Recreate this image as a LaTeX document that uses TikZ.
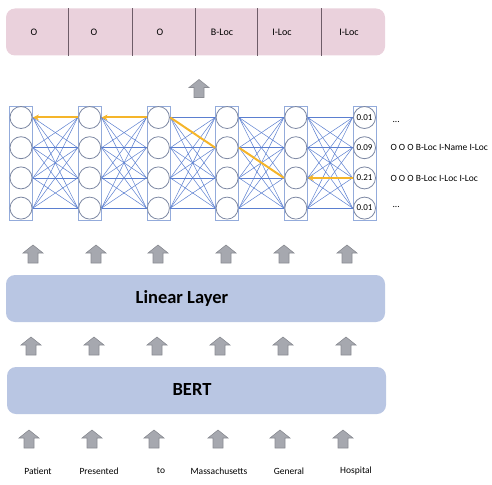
\documentclass[tikz,border=0pt]{standalone}
\usepackage{fontspec}
\setmainfont{Carlito}
\usetikzlibrary{arrows.meta}

\definecolor{tagpink}{HTML}{EAD1DC}
\definecolor{tagline}{HTML}{6E5C68}
\definecolor{layerblue}{HTML}{B9C6E3}
\definecolor{arrowgray}{HTML}{A6A8AF}
\definecolor{arrowedge}{HTML}{8A8C93}
\definecolor{linkblue}{HTML}{5B7FD0}
\definecolor{colblue}{HTML}{93ABDB}
\definecolor{cellgray}{HTML}{7D88A3}
\definecolor{pathorange}{HTML}{F5B52A}

\begin{document}
\begin{tikzpicture}[x=1pt, y=-1pt,
    barbox/.style={rectangle, rounded corners=9pt, minimum width=379pt, minimum height=47pt},
    bartext/.style={font=\fontsize{18.5}{20}\selectfont\bfseries},
    tagtext/.style={font=\fontsize{10}{12}\selectfont},
    wordtext/.style={font=\fontsize{9.5}{11}\selectfont},
    uparrow/.pic={\draw[draw=arrowedge, fill=arrowgray, line width=0.6pt]
        (-5,9) -- (-5,-1) -- (-10,-1) -- (0,-9) -- (10,-1) -- (5,-1) -- (5,9) -- cycle;},
    layercol/.style={rectangle, draw=colblue, line width=0.8pt, minimum width=23pt, minimum height=114pt},
    cell/.style={circle, draw=cellgray, fill=white, line width=0.8pt, minimum size=22pt, inner sep=0pt, font=\fontsize{9}{10}\selectfont},
    link/.style={draw=linkblue, line width=0.5pt},
    best/.style={draw=pathorange, line width=2pt}]

    \useasboundingbox (0,0) rectangle (492,484);

    % output tags
    \node[barbox, fill=tagpink] (tags) at (195.5,32) {};
    \foreach \x in {68,132,195,257,321}
        \draw[tagline, line width=0.8pt] (tags.north -| \x,0) -- (tags.south -| \x,0);
    \foreach \x/\t [count=\k] in {34/O,94/O,160/O,222/B-Loc,282/I-Loc,349/I-Loc}
        \node[tagtext] (tag\k) at (\x,32) {\t};
    \pic (up0) at (199,88.5) {uparrow};

    % CRF layer
    \foreach \i in {1,...,5} {
        \node[layercol] (c\i) at ({21+68.7*(\i-1)},163) {};
        \foreach \r in {1,...,4}
            \node[cell] (n\i-\r) at ({21+68.7*(\i-1)},{117.5+30.2*(\r-1)}) {};
    }
    \node[layercol] (c6) at (364.5,163) {};
    \foreach \v [count=\r] in {0.01,0.09,0.21,0.01}
        \node[cell] (n6-\r) at (364.5,{117.5+30.2*(\r-1)}) {\v};

    \foreach \i [count=\j from 2] in {1,...,5}
        \foreach \r in {1,...,4}
            \foreach \s in {1,...,4}
                \draw[link] (c\i.east |- n\i-\r) -- (c\j.west |- n\j-\s);

    \draw[best, -{Stealth[length=6pt,width=6pt]}] (c2.west |- n2-1) -- (c1.east |- n1-1);
    \draw[best, -{Stealth[length=6pt,width=6pt]}] (c3.west |- n3-1) -- (c2.east |- n2-1);
    \draw[best] (c4.west |- n4-2) -- (c3.east |- n3-1);
    \draw[best] (c5.west |- n5-3) -- (c4.east |- n4-2);
    \draw[best, -{Stealth[length=6pt,width=6pt]}] (c6.west |- n6-3) -- (c5.east |- n5-3);

    \node[wordtext, anchor=west] (seq1) at (389,122) {...};
    \node[wordtext, anchor=west] (seq2) at (387,147.5) {O O O B-Loc I-Name I-Loc};
    \node[wordtext, anchor=west] (seq3) at (387,178) {O O O B-Loc I-Loc I-Loc};
    \node[wordtext, anchor=west] (seq4) at (389,207) {...};

    % linear layer and BERT
    \foreach \x [count=\k] in {33,96,158,226,284,347}
        \pic (uc\k) at (\x,254) {uparrow};
    \node[barbox, fill=layerblue] (linear) at (195.5,298.5) {};
    \node[bartext] (lineartext) at (182,298) {Linear Layer};
    \foreach \x [count=\k] in {31,94,157,220,283,346}
        \pic (ub\k) at (\x,346) {uparrow};
    \node[barbox, fill=layerblue] (bert) at (196.5,390.5) {};
    \node[bartext] (berttext) at (192,389) {BERT};
    \foreach \x [count=\k] in {29,92,154,218,280,343}
        \pic (ua\k) at (\x,439) {uparrow};

    % input words
    \foreach \x/\w [count=\k] in {38/Patient,99/Presented,161/to,219/Massachusetts,289/General,356/Hospital}
        \node[wordtext] (w\k) at (\x,471) {\w};
\end{tikzpicture}
\end{document}
